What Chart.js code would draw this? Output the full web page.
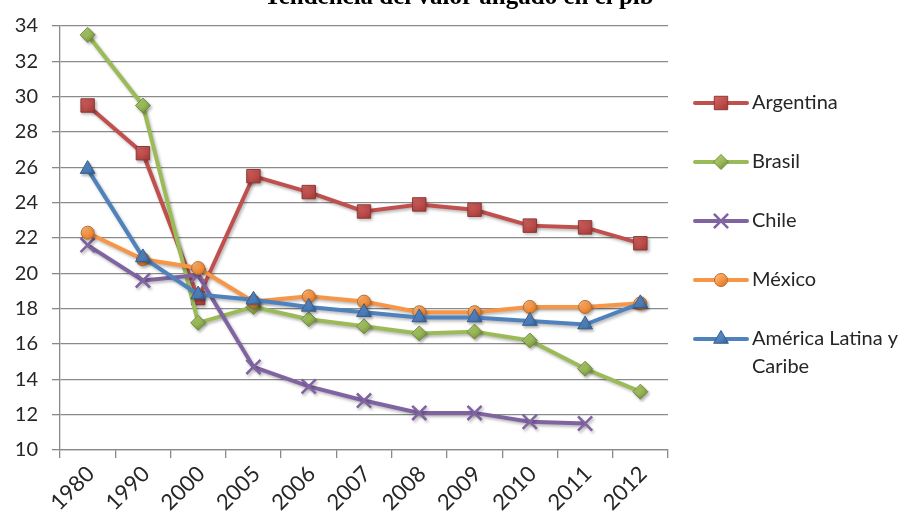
<!DOCTYPE html>
<html>
<head>
<meta charset="utf-8">
<script src="https://cdn.jsdelivr.net/npm/chart.js@4/dist/chart.umd.min.js"></script>
<style>
  html, body { margin: 0; padding: 0; background: #ffffff; }
  #wrap { width: 906px; height: 519px; }
</style>
</head>
<body>
<div id="wrap"><canvas id="chart" width="906" height="519"></canvas></div>
<script>
// Years on the category axis
const years = ['1980', '1990', '2000', '2005', '2006', '2007', '2008', '2009', '2010', '2011', '2012'];

// Value added share of GDP (%)
const argentina = [29.5, 26.8, 18.6, 25.5, 24.6, 23.5, 23.9, 23.6, 22.7, 22.6, 21.7];
const brasil    = [33.5, 29.5, 17.2, 18.1, 17.4, 17.0, 16.6, 16.7, 16.2, 14.6, 13.3];
const chile     = [21.6, 19.6, 19.9, 14.7, 13.6, 12.8, 12.1, 12.1, 11.6, 11.5, null];
const mexico    = [22.3, 20.8, 20.3, 18.4, 18.7, 18.4, 17.8, 17.8, 18.1, 18.1, 18.3];
const americaLatina = [25.9, 20.9, 18.8, 18.5, 18.1, 17.8, 17.5, 17.5, 17.3, 17.1, 18.3];

// Y axis range and step
const yMin = 10, yMax = 34, yStep = 2;

const titleText = 'Tendencia del valor añgado en el pib';

// Series styling: line colour, marker light/dark shades
const styles = [
  { label: 'Argentina', data: argentina, color: '#C0504D', light: '#E4726E', dark: '#9B3431', edge: '#8C3836', point: 'rect', radius: 9.5 },
  { label: 'Brasil', data: brasil, color: '#9BBB59', light: '#B5D27A', dark: '#6F8C35', edge: '#71893F', point: 'rectRot', radius: 7.5 },
  { label: 'Chile', data: chile, color: '#8064A2', light: '#8064A2', dark: '#8064A2', edge: '#8064A2', point: 'crossRot', radius: 10 },
  { label: 'México', data: mexico, color: '#F79646', light: '#FCC68E', dark: '#DD7521', edge: '#B66D31', point: 'circle', radius: 6.5 },
  { label: 'América Latina y Caribe', data: americaLatina, color: '#4F81BD', light: '#5E92D2', dark: '#2B5690', edge: '#385D8A', point: 'triangle', radius: 8.5 }
];

function shadeGradient(c, s, x, y) {
  const r = s.radius;
  const g = c.createLinearGradient(x - r, y - r, x + r * 0.6, y + r);
  g.addColorStop(0, s.light);
  g.addColorStop(0.55, s.color);
  g.addColorStop(1, s.dark);
  return g;
}

// Shaded marker fill, computed at the point's own pixel position
function markerFill(s) {
  return function (ctx) {
    const chart = ctx.chart;
    if (ctx.type !== 'data' || ctx.raw == null || !chart.scales || !chart.scales.x || !chart.scales.y) return s.color;
    const x = chart.scales.x.getPixelForValue(ctx.dataIndex);
    const y = chart.scales.y.getPixelForValue(ctx.raw);
    if (!isFinite(x) || !isFinite(y)) return s.color;
    return shadeGradient(chart.ctx, s, x, y);
  };
}

const datasets = styles.map((s, i) => ({
  label: s.label,
  data: s.data,
  borderColor: s.color,
  backgroundColor: s.color,
  borderWidth: 4,
  tension: 0,
  spanGaps: false,
  pointStyle: s.point,
  pointRadius: s.radius,
  pointHoverRadius: s.radius,
  pointBackgroundColor: markerFill(s),
  pointBorderColor: s.point === 'crossRot' ? s.color : s.edge,
  pointBorderWidth: s.point === 'crossRot' ? 2.6 : 1,
  order: styles.length - i,
  clip: false
}));

// Soft shadow under the series lines and markers
const shadowPlugin = {
  id: 'seriesShadow',
  beforeDatasetsDraw(chart) {
    const c = chart.ctx;
    c.save();
    c.shadowColor = 'rgba(0,0,0,0.28)';
    c.shadowBlur = 3;
    c.shadowOffsetX = 1.5;
    c.shadowOffsetY = 2;
  },
  afterDatasetsDraw(chart) {
    chart.ctx.restore();
  }
};

// Title text, bold serif, sitting at the very top edge
const titlePlugin = {
  id: 'topTitle',
  afterDraw(chart) {
    const c = chart.ctx;
    c.save();
    c.font = 'bold 25px "Liberation Serif"';
    c.fillStyle = '#000';
    c.textAlign = 'center';
    c.textBaseline = 'alphabetic';
    c.fillText(titleText, 459, 4);
    c.restore();
  }
};

function drawMarker(c, s, x, y) {
  const r = s.radius;
  c.save();
  c.lineWidth = s.point === 'crossRot' ? 2.6 : 1;
  c.strokeStyle = s.point === 'crossRot' ? s.color : s.edge;
  c.fillStyle = shadeGradient(c, s, x, y);
  c.beginPath();
  if (s.point === 'rect') {
    const h = r * Math.SQRT1_2;
    c.rect(x - h, y - h, 2 * h, 2 * h);
    c.fill(); c.stroke();
  } else if (s.point === 'rectRot') {
    c.moveTo(x - r, y); c.lineTo(x, y - r); c.lineTo(x + r, y); c.lineTo(x, y + r); c.closePath();
    c.fill(); c.stroke();
  } else if (s.point === 'circle') {
    c.arc(x, y, r, 0, Math.PI * 2);
    c.fill(); c.stroke();
  } else if (s.point === 'triangle') {
    c.moveTo(x, y - r);
    c.lineTo(x + r * Math.sin(2 * Math.PI / 3), y - r * Math.cos(2 * Math.PI / 3));
    c.lineTo(x + r * Math.sin(4 * Math.PI / 3), y - r * Math.cos(4 * Math.PI / 3));
    c.closePath();
    c.fill(); c.stroke();
  } else if (s.point === 'crossRot') {
    const h = r * Math.SQRT1_2;
    c.moveTo(x - h, y - h); c.lineTo(x + h, y + h);
    c.moveTo(x + h, y - h); c.lineTo(x - h, y + h);
    c.stroke();
  }
  c.restore();
}

// Legend on the right, one entry per series, long names wrapped
const legendPlugin = {
  id: 'sideLegend',
  afterDraw(chart) {
    const c = chart.ctx;
    const x0 = 695, x1 = 747, tx = 752, maxW = 906 - tx - 1;
    const ys = [103, 162, 221, 280, 339];
    c.save();
    c.font = '20px Lato';
    c.textBaseline = 'middle';
    c.fillStyle = '#262626';
    styles.forEach((s, i) => {
      const y = ys[i];
      c.save();
      c.strokeStyle = s.color;
      c.lineWidth = 4;
      c.lineCap = 'round';
      c.beginPath(); c.moveTo(x0, y); c.lineTo(x1, y); c.stroke();
      c.restore();
      drawMarker(c, s, (x0 + x1) / 2, y);
      const words = s.label.split(' ');
      const lines = [];
      let cur = '';
      words.forEach(w => {
        const test = cur ? cur + ' ' + w : w;
        if (c.measureText(test).width > maxW && cur) { lines.push(cur); cur = w; } else { cur = test; }
      });
      lines.push(cur);
      lines.forEach((ln, k) => c.fillText(ln, tx, y + k * 28));
    });
    c.restore();
  }
};

new Chart(document.getElementById('chart'), {
  type: 'line',
  data: { labels: years, datasets },
  plugins: [shadowPlugin, titlePlugin, legendPlugin],
  options: {
    responsive: false,
    animation: false,
    devicePixelRatio: 1,
    layout: { padding: { left: 0, top: 26, right: 238, bottom: 0 } },
    plugins: {
      legend: { display: false },
      title: { display: false },
      tooltip: { enabled: false }
    },
    scales: {
      x: {
        type: 'category',
        offset: true,
        grid: { display: true, drawOnChartArea: false, drawTicks: true, tickLength: 8, offset: true, color: '#8a8a8a', lineWidth: 1.3 },
        border: { display: true, color: '#8a8a8a', width: 1.3 },
        ticks: { autoSkip: false, maxRotation: 45, minRotation: 45, padding: 3, labelOffset: 3, color: '#262626', font: { family: 'Lato', size: 22 } },
        afterFit(scale) { scale.height = 69; }
      },
      y: {
        min: yMin,
        max: yMax,
        grid: { color: '#8a8a8a', lineWidth: 1.3, drawTicks: true, tickLength: 8 },
        border: { display: true, color: '#8a8a8a', width: 1.3 },
        ticks: { stepSize: yStep, padding: 14, color: '#262626', font: { family: 'Lato', size: 20 } },
        afterFit(scale) { scale.width = 60; }
      }
    }
  }
});
</script>
</body>
</html>
